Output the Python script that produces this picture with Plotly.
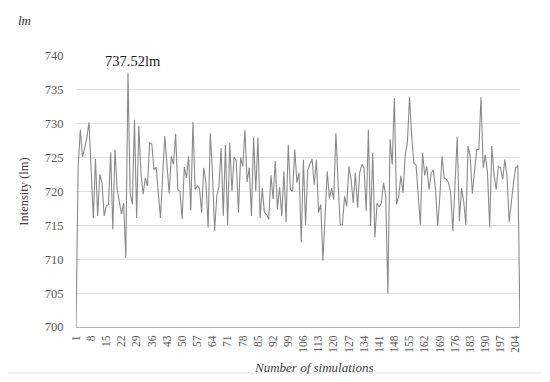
import plotly.graph_objects as go

# Intensity values (lm); series starts and ends at the axis floor
intensity = [
    700.0,
    723.7, 729.1, 725.1, 726.4, 727.9, 730.2, 723.2, 716.0, 724.8, 716.4,
    722.5, 721.3, 716.4, 717.9, 718.1, 725.8, 714.4, 726.2, 720.3, 718.6,
    716.7, 718.3, 710.2, 737.52, 719.8, 718.1, 730.6, 716.1, 729.7, 722.7,
    719.6, 722.0, 720.8, 727.2, 727.0, 723.2, 723.6, 719.8, 716.1, 722.3,
    728.2, 724.0, 719.7, 725.2, 724.0, 728.5, 720.3, 720.0, 715.9, 723.6,
    722.0, 725.2, 717.2, 730.3, 720.3, 720.8, 720.5, 716.9, 723.5, 721.3,
    714.7, 728.6, 722.7, 714.2, 719.3, 720.8, 726.4, 716.4, 726.9, 715.1,
    727.2, 720.0, 725.1, 724.5, 716.9, 725.0, 723.7, 729.1, 721.4, 723.5,
    716.4, 728.0, 720.0, 728.0, 716.1, 720.5, 716.9, 716.6, 715.9, 722.4,
    718.9, 724.5, 717.4, 720.7, 716.4, 723.0, 715.5, 726.9, 720.3, 720.0,
    726.2, 721.3, 722.8, 712.5, 724.7, 715.1, 723.2, 724.0, 724.8, 721.0,
    724.7, 716.9, 718.1, 709.8, 717.4, 723.0, 719.0, 720.5, 718.8, 728.6,
    721.3, 715.1, 715.1, 719.3, 717.8, 723.7, 721.8, 718.3, 722.8, 717.6,
    722.8, 724.0, 723.5, 717.1, 729.1, 714.9, 725.7, 713.2, 718.3, 717.7,
    718.3, 721.3, 719.3, 704.9, 727.7, 724.0, 733.8, 718.1, 719.3, 722.3,
    719.8, 725.4, 727.2, 733.9, 728.1, 724.2, 723.9, 719.3, 715.1, 725.7,
    722.4, 723.7, 720.3, 722.7, 723.2, 720.3, 714.9, 719.3, 725.2, 722.0,
    721.8, 721.3, 719.8, 714.2, 721.3, 728.0, 715.6, 720.5, 718.6, 715.1,
    726.7, 725.2, 719.7, 723.2, 726.2, 726.2, 733.9, 723.5, 725.4, 722.7,
    714.7, 726.7, 722.5, 720.3, 723.7, 723.5, 721.8, 724.7, 722.3, 715.5,
    718.9, 721.3, 723.5, 723.8, 700.0,
]
simulations = list(range(1, len(intensity) + 1))
tick_values = list(range(1, 205, 7))
tick_labels = [str(v) for v in tick_values]
y_ticks = [700, 705, 710, 715, 720, 725, 730, 735, 740]

peak_value = max(intensity)
peak_x = simulations[intensity.index(peak_value)]

FONT = "Liberation Serif, Times New Roman, serif"

fig = go.Figure()
fig.add_trace(go.Scatter(
    x=simulations, y=intensity, mode="lines",
    line=dict(color="#8a8a8a", width=1.1),
    hoverinfo="x+y", showlegend=False,
))

# page body has an 8px margin, so the figure is sized/placed to compensate
fig.update_layout(
    width=534, height=366,
    margin=dict(l=68, r=22, t=48, b=47),
    paper_bgcolor="white", plot_bgcolor="white",
    font=dict(family=FONT, color="#595959", size=12),
    xaxis=dict(
        range=[1, len(intensity)],
        tickmode="array", tickvals=tick_values, ticktext=tick_labels,
        tickangle=-90, showgrid=False, zeroline=False,
        showline=True, linecolor="#b3b3b3", linewidth=1,
        ticks="outside", ticklen=3, tickcolor="rgba(0,0,0,0)",
        tickfont=dict(family=FONT, size=11.5, color="#595959"),
    ),
    yaxis=dict(
        range=[700, 740], tickmode="array", tickvals=y_ticks,
        showgrid=True, gridcolor="#e0e0e0", gridwidth=1, zeroline=False,
        showline=False, ticks="outside", ticklen=9, tickcolor="rgba(0,0,0,0)",
        tickfont=dict(family=FONT, size=12.5, color="#595959"),
        title=dict(text="Intensity (lm)", standoff=13,
                   font=dict(family=FONT, size=12.5, color="#404040")),
    ),
)

fig.add_annotation(
    x=peak_x, y=peak_value, xref="x", yref="y",
    text=f"{peak_value:.2f}lm", showarrow=False,
    xanchor="center", yanchor="bottom", xshift=5, yshift=2,
    font=dict(family=FONT, size=14.5, color="#222222"),
)
fig.add_annotation(
    x=-0.115, y=1.13, xref="paper", yref="paper",
    text="<i>lm</i>", showarrow=False, xanchor="center", yanchor="middle",
    font=dict(family=FONT, size=13, color="#333333"),
)
fig.add_annotation(
    x=0.535, y=-0.148, xref="paper", yref="paper",
    text="<i>Number of simulations</i>", showarrow=False,
    xanchor="center", yanchor="middle",
    font=dict(family=FONT, size=13, color="#404040"),
)
# faint outer frame line of the original figure (bottom)
fig.add_shape(type="line", xref="paper", yref="paper",
              x0=-68 / 444, x1=(534 - 68) / 444,
              y0=(327 - 373) / 271, y1=(327 - 373) / 271,
              line=dict(color="#e6e6e6", width=1))

fig.write_html("out.html")
